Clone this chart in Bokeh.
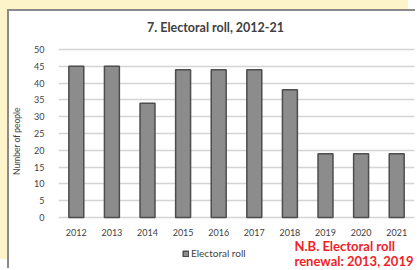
from bokeh.plotting import figure
from bokeh.layouts import column
from bokeh.models import FactorRange, Range1d, Label, Legend, LegendItem, ColumnDataSource, FixedTicker
from bokeh.core.properties import value
from bokeh.embed import file_html
from bokeh.resources import INLINE

years = ["2012", "2013", "2014", "2015", "2016", "2017", "2018", "2019", "2020", "2021"]
people = [45, 45, 34, 44, 44, 44, 38, 19, 19, 19]
y_ticks = [0, 5, 10, 15, 20, 25, 30, 35, 40, 45, 50]
series_name = "Electoral roll"
title_text = "7. Electoral roll, 2012-21"
note_lines = ["N.B. Electoral roll", "renewal: 2013, 2019"]

FONT = "Lato"
TXT = "#3f3f3f"
src = ColumnDataSource(dict(year=years, people=people, label_y=[-4.5] * len(years)))

# frame spans the full canvas height; y mapping 3.36 px per unit
p = figure(width=408, height=259, x_range=FactorRange(*years, range_padding=0),
           y_range=Range1d(-15.77, 61.31), output_backend="svg", toolbar_location=None,
           min_border_left=49, min_border_right=3, min_border_top=0, min_border_bottom=0)
p.margin = (9, 0, 0, 7)
p.styles = {"border-top": "2px solid #8a8a8a", "border-left": "2px solid #8a8a8a",
            "background-color": "white", "box-shadow": "-7px -9px 0 0 #fdf5c9"}
p.outline_line_color = None
p.background_fill_color = "white"
p.border_fill_color = "white"

r = p.vbar(x="year", top="people", width=0.42, source=src,
           fill_color="#8c8c8c", line_color="#4d4d4d", line_width=1.5)

p.xaxis.visible = False
p.xgrid.grid_line_color = None
p.ygrid.grid_line_color = "#d4d4d4"
p.ygrid.grid_line_width = 1.5
p.yaxis.ticker = FixedTicker(ticks=y_ticks)

ax = p.yaxis[0]
ax.axis_line_color = None
ax.major_tick_line_color = None
ax.minor_tick_line_color = None
ax.major_label_text_font = FONT
ax.major_label_text_font_size = "9px"
ax.major_label_text_color = TXT
ax.major_label_standoff = 8
ax.axis_label = "Number of people"
ax.axis_label_text_font = FONT
ax.axis_label_text_font_style = "normal"
ax.axis_label_text_font_size = "8.5px"
ax.axis_label_text_color = TXT
ax.axis_label_standoff = 9

# category labels under the bars
p.text(x="year", y="label_y", text="year", source=src, text_align="center",
       text_baseline="middle", text_font=value(FONT), text_font_size="9px", text_color=TXT)

p.add_layout(Label(x=157, y=243, x_units="screen", y_units="screen", text=title_text,
                   text_align="center", text_baseline="middle", text_font=FONT,
                   text_font_style="bold", text_font_size="12.5px", text_color="#404040"))

for i, line in enumerate(note_lines):
    p.add_layout(Label(x=236, y=25 - 15 * i, x_units="screen", y_units="screen", text=line,
                       text_align="left", text_baseline="middle", text_font=FONT,
                       text_font_style="bold", text_font_size="13px", text_color="#f01e28"))

legend = Legend(items=[LegendItem(label=series_name, renderers=[r])], location=(124, 11),
                background_fill_alpha=0, border_line_color=None, label_text_font=FONT,
                label_text_font_size="10px", label_text_color=TXT,
                glyph_width=7, glyph_height=7, padding=0, margin=0, label_standoff=2)
p.add_layout(legend)

layout = column(p)

open("out.html", "w").write(file_html(layout, INLINE))
